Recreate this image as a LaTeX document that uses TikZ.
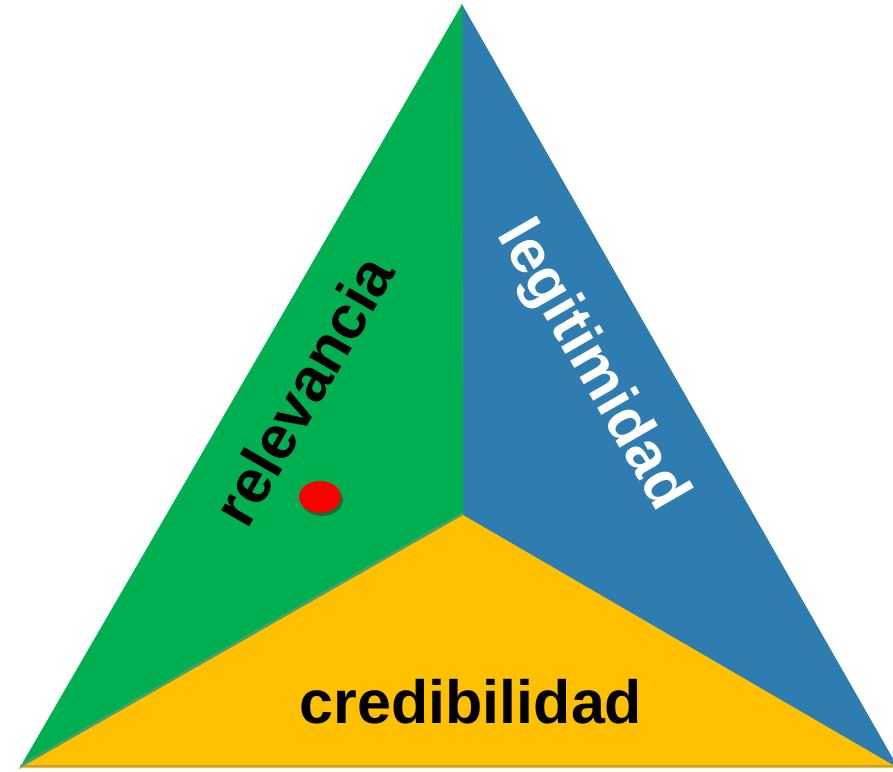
\documentclass[tikz,border=0pt]{standalone}
\usepackage{fontspec}
\setmainfont{Liberation Sans}
\usetikzlibrary{shapes.geometric}
\definecolor{relgreen}{RGB}{0,176,80}
\definecolor{legblue}{RGB}{47,125,176}
\definecolor{credyellow}{RGB}{255,192,0}
\begin{document}
\begin{tikzpicture}[x=1pt,y=-1pt,
    label/.style={inner sep=0pt,font=\fontsize{61}{63}\selectfont\bfseries},
    shade line/.style={draw=black!45,line width=2pt,opacity=0.6}]
  \useasboundingbox (0,0) rectangle (893,771);
  \coordinate (apex) at (462,5);
  \coordinate (left) at (20,768);
  \coordinate (right) at (898,768);
  \coordinate (mid) at (463,515);
  % the three faces
  \filldraw[legblue,line width=0.6pt] (apex) -- (right) -- (mid) -- cycle;
  \filldraw[relgreen,line width=0.6pt] (apex) -- (mid) -- (left) -- cycle;
  \draw[shade line] ([yshift=2pt]left) -- ([yshift=2pt]mid);
  \fill[credyellow] (left) -- (mid) -- (right) -- cycle;
  \draw[shade line] ([yshift=2pt]left) -- ([yshift=2pt]right);
  \node[label,rotate=60] (relevancia) at (303,390) {relevancia};
  \node[label,rotate=-60,text=white] (legitimidad) at (591,366) {legitimidad};
  \node[label,anchor=base] (credibilidad) at (471,723) {credibilidad};
  \fill[black!60!relgreen,opacity=0.5] (322,500) ellipse [x radius=21,y radius=16];
  \node[ellipse,fill=red,minimum width=42pt,minimum height=32pt,inner sep=0pt] (dot) at (320,497) {};
\end{tikzpicture}
\end{document}
